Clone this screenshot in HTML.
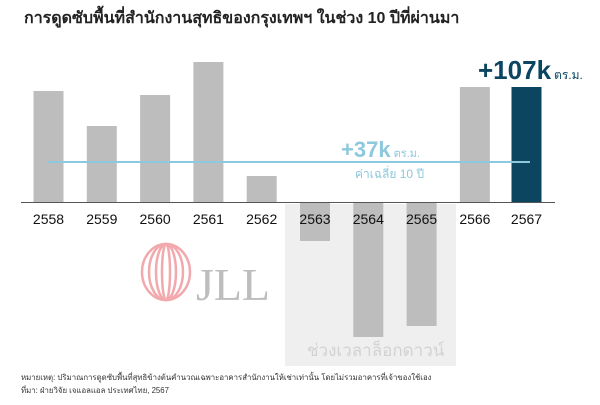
<!DOCTYPE html>
<html><head><meta charset="utf-8"><style>
body{margin:0;width:600px;height:400px;background:#fff;overflow:hidden;font-family:"Liberation Sans","Noto Sans CJK SC",sans-serif}
</style></head><body>
<svg width="600" height="400" xmlns="http://www.w3.org/2000/svg" font-family="Liberation Sans, Noto Sans CJK SC, sans-serif">
<text x="24" y="23" font-size="16" font-weight="bold" fill="#222">การดูดซับพื้นที่สำนักงานสุทธิของกรุงเทพฯ ในช่วง 10 ปีที่ผ่านมา</text>
<rect x="285" y="204" width="171" height="162" fill="#efefef"/>
<g fill="#bdbdbd">
<rect x="33.5" y="91" width="30" height="111"/>
<rect x="86.8" y="126" width="30" height="76"/>
<rect x="140.1" y="95" width="30" height="107"/>
<rect x="193.4" y="62" width="30" height="140"/>
<rect x="246.7" y="176" width="30" height="26"/>
<rect x="300" y="202" width="30" height="39"/>
<rect x="353.3" y="202" width="30" height="135"/>
<rect x="406.6" y="202" width="30" height="124"/>
<rect x="459.9" y="87" width="30" height="115"/>
</g>
<rect x="511.5" y="87" width="30" height="115" fill="#0b4560"/>
<line x1="21" y1="202.5" x2="555" y2="202.5" stroke="#555" stroke-width="1"/>
<line x1="47" y1="162" x2="530" y2="162" stroke="#8ec8dc" stroke-width="2"/>
<text x="341" y="157" font-size="22" font-weight="bold" fill="#8ec8dc">+37k<tspan font-size="11" font-weight="normal" dx="3">ตร.ม.</tspan></text>
<text x="355" y="178" font-size="12" fill="#8ec8dc">ค่าเฉลี่ย 10 ปี</text>
<text x="478" y="79" font-size="26" font-weight="bold" fill="#0b4560">+107k<tspan font-size="12" font-weight="normal" dx="3">ตร.ม.</tspan></text>
<g font-size="14" fill="#111" text-anchor="middle">
<text x="48.5" y="224">2558</text><text x="101.8" y="224">2559</text><text x="155.1" y="224">2560</text>
<text x="208.4" y="224">2561</text><text x="261.7" y="224">2562</text><text x="315" y="224">2563</text>
<text x="368.3" y="224">2564</text><text x="421.6" y="224">2565</text><text x="474.9" y="224">2566</text>
<text x="526.5" y="224">2567</text>
</g>
<g fill="none" stroke="#f2a9ad" stroke-width="2.5">
<ellipse cx="166" cy="272" rx="24" ry="28"/>
<ellipse cx="166" cy="272" rx="17" ry="28"/>
<ellipse cx="166" cy="272" rx="10" ry="28"/>
<ellipse cx="166" cy="272" rx="4" ry="28"/>
</g>
<text x="196" y="300" font-size="46" font-family="Liberation Serif, serif" fill="#bdbdbd" textLength="74" lengthAdjust="spacingAndGlyphs">JLL</text>
<text x="307" y="356" font-size="17" fill="#d2d2d2">ช่วงเวลาล็อกดาวน์</text>
<text x="21" y="380" font-size="7.8" fill="#333">หมายเหตุ: ปริมาณการดูดซับพื้นที่สุทธิข้างต้นคำนวณเฉพาะอาคารสำนักงานให้เช่าเท่านั้น โดยไม่รวมอาคารที่เจ้าของใช้เอง</text>
<text x="21" y="393" font-size="7.8" fill="#333">ที่มา: ฝ่ายวิจัย เจแอลแอล ประเทศไทย, 2567</text>
</svg>
</body></html>
